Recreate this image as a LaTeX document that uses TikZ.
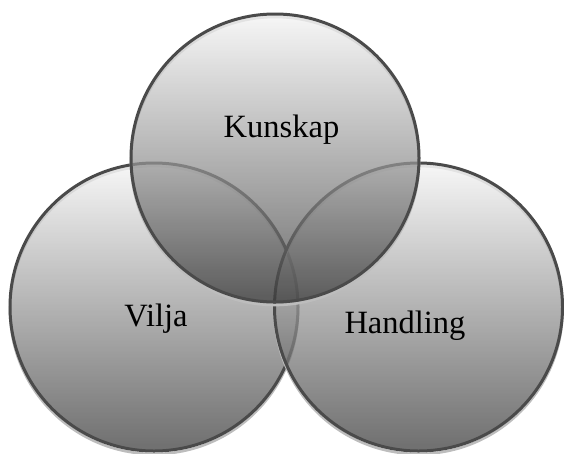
\documentclass[tikz,border=0pt]{standalone}
\usepackage{fontspec}
\setmainfont{Liberation Serif}
\definecolor{rimgray}{HTML}{4A4A4A}
\definecolor{shadowgray}{HTML}{BDBDBD}
\definecolor{topgray}{HTML}{F4F4F4}
\definecolor{botgray}{HTML}{3C3C3C}
\tikzset{
  venn/.style={circle, minimum size=288pt, inner sep=0pt, outer sep=0pt,
    top color=topgray, bottom color=botgray, fill opacity=0.74,
    draw=rimgray, line width=3pt,
    preaction={draw=shadowgray, line width=2.6pt, transform canvas={yshift=-3pt}}},
  lbl/.style={anchor=base, font=\fontsize{32.5}{38}\selectfont, text=black}
}
\begin{document}
\begin{tikzpicture}[x=1pt,y=-1pt]
\useasboundingbox (0,0) rectangle (564,453);
\node[venn] (cv) at (154,307) {};
\node[venn] (ch) at (418.5,307) {};
\node[venn] (ck) at (275,158) {};
\node[lbl] (tk) at (281.5,137) {Kunskap};
\node[lbl] (tv) at (156,326) {Vilja};
\node[lbl] (th) at (405,333) {Handling};
\end{tikzpicture}
\end{document}
